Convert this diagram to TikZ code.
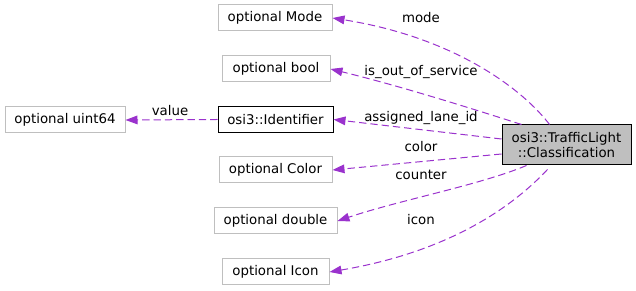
\documentclass[tikz,border=0pt]{standalone}
\usepackage{fontspec}
\setmainfont{DejaVu Sans}
\usetikzlibrary{arrows.meta}
\definecolor{edgepurple}{HTML}{9A32CD}
\definecolor{boxgrey}{HTML}{BFBFBF}
\tikzset{
  box/.style={draw=boxgrey, line width=0.75pt, fill=white, inner sep=0pt,
    minimum height=19.5pt, font=\fontsize{10}{12}\selectfont},
  mainbox/.style={draw=black, line width=0.75pt, fill=boxgrey, inner sep=0pt,
    minimum width=96.75pt, minimum height=30pt, align=center,
    font=\fontsize{10}{11.5}\selectfont},
  rel/.style={draw=edgepurple, line width=0.75pt, dash pattern=on 5.5pt off 3pt,
    -{Triangle[length=9pt,width=6.5pt,fill=edgepurple]}},
  lbl/.style={font=\fontsize{10}{12}\selectfont, inner sep=0pt}
}
\begin{document}
\begin{tikzpicture}[x=0.75pt,y=-0.75pt]
  \useasboundingbox (0,0) rectangle (636,291);
  % member types
  \node[box, minimum width=85.5pt]  (mode)  at (275,18)    {optional Mode};
  \node[box, minimum width=81pt]    (bool)  at (276,69)    {optional bool};
  \node[box, draw=black, minimum width=86.25pt] (ident) at (275.5,119.5) {osi3::Identifier};
  \node[box, minimum width=90pt]    (uint)  at (65,120)    {optional uint64};
  \node[box, minimum width=84.75pt] (color) at (275.5,170) {optional Color};
  \node[box, minimum width=92.25pt] (dbl)   at (275.5,221) {optional double};
  \node[box, minimum width=80.25pt] (icon)  at (275.5,272) {optional Icon};
  % the documented class
  \node[mainbox] (cls) at (566.5,145) {osi3::TrafficLight\\::Classification};
  % attribute relations
  \draw[rel] (cls.north) ++(-17,0) .. controls (525,92) and (458,38) .. (mode.east);
  \draw[rel] (cls.north) ++(-45,0) .. controls (470,108) and (400,86) .. (bool.east);
  \draw[rel] (cls.west) ++(0,-6) -- (ident.east);
  \draw[rel] (cls.west) ++(0,9) -- (color.east);
  \draw[rel] (cls.south) ++(-40,0) .. controls (480,185) and (400,200) .. (dbl.east);
  \draw[rel] (cls.south) ++(-19,4) .. controls (500,220) and (430,255) .. (icon.east);
  \draw[rel] (ident.west) -- (uint.east);
  % relation labels
  \node[lbl] (lmode)  at (421,18)  {mode};
  \node[lbl] (lbool)  at (421,72)  {is\_out\_of\_service};
  \node[lbl] (llane)  at (421,118) {assigned\_lane\_id};
  \node[lbl] (lcolor) at (421,147) {color};
  \node[lbl] (lcount) at (421,175) {counter};
  \node[lbl] (licon)  at (421,220) {icon};
  \node[lbl] (lvalue) at (170,111) {value};
\end{tikzpicture}
\end{document}
